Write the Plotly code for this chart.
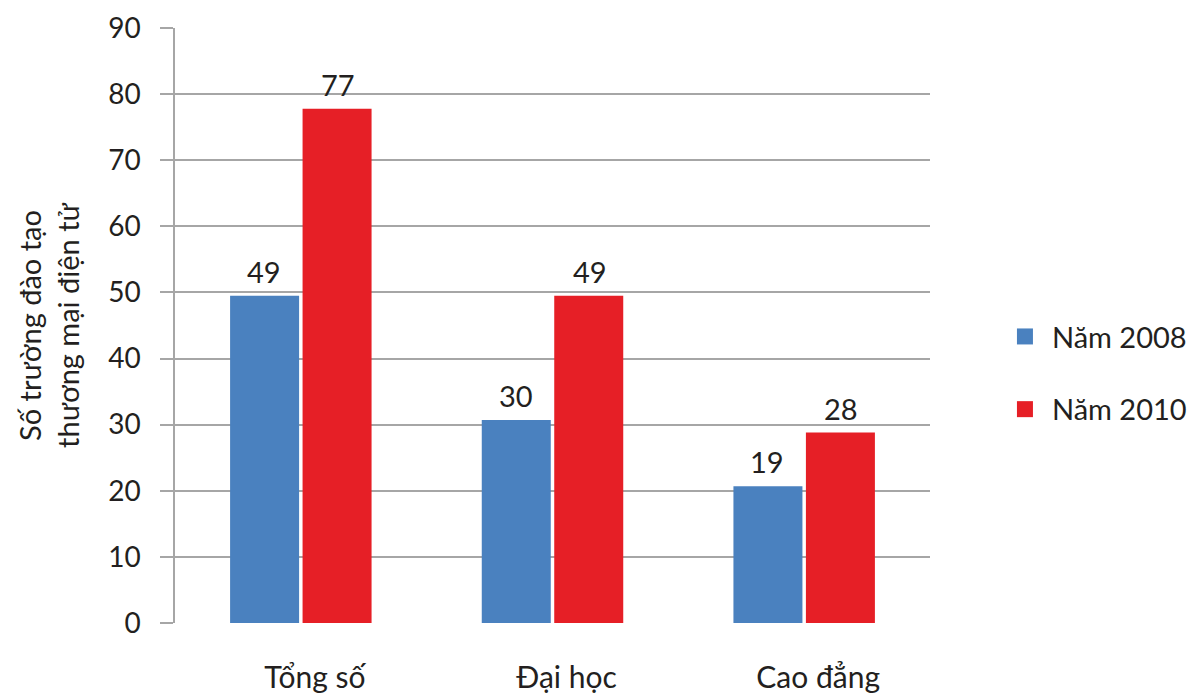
import plotly.graph_objects as go

categories = ["Tổng số", "Đại học", "Cao đẳng"]
series_names = ["Năm 2008", "Năm 2010"]
# bar heights as drawn in the picture
heights_2008 = [49.5, 30.7, 20.7]
heights_2010 = [77.8, 49.5, 28.8]
# printed data labels
labels_2008 = [49, 30, 19]
labels_2010 = [77, 49, 28]
colors = ["#4a81bf", "#e61f26"]
y_ticks = [0, 10, 20, 30, 40, 50, 60, 70, 80, 90]

FONT = "Lato"
TXT = "#231f20"

fig = go.Figure()
series = [(series_names[0], heights_2008, labels_2008, colors[0], -37),
          (series_names[1], heights_2010, labels_2010, colors[1], 37)]
for name, h, lab, col, shift in series:
    fig.add_trace(go.Bar(
        x=categories, y=h, name=name, marker=dict(color=col, line=dict(width=0)),
        showlegend=False,
    ))
    fig.add_trace(go.Scatter(
        x=[None], y=[None], mode="markers", name=name, legendgroup=name,
        marker=dict(symbol="square", size=22, color=col), showlegend=True,
    ))
    for c, v, t in zip(categories, h, lab):
        fig.add_annotation(x=c, y=v, xref="x", yref="y", text=str(t), showarrow=False,
                           yanchor="bottom", xshift=shift, yshift=5,
                           font=dict(size=29, family=FONT, color=TXT))

fig.update_layout(
    width=1194, height=695,
    margin=dict(l=175, r=264, t=28, b=72, autoexpand=False),
    paper_bgcolor="white", plot_bgcolor="white",
    barmode="group", bargap=0.424, bargroupgap=0.048,
    font=dict(family=FONT, color=TXT, size=24),
    legend=dict(x=1.09, xanchor="left", y=0.42, yanchor="middle",
                font=dict(size=29, family=FONT, color=TXT), itemwidth=44,
                tracegroupgap=32, itemsizing="trace", bgcolor="rgba(0,0,0,0)"),
    showlegend=True,
)
fig.update_yaxes(
    range=[0, 90], tickvals=y_ticks, showgrid=True, gridcolor="#a6a6a6", gridwidth=1.5,
    showline=True, linecolor="#a6a6a6", linewidth=1.5,
    ticks="outside", ticklen=13, tickcolor="#a6a6a6", tickwidth=1.5,
    tickfont=dict(size=28, family=FONT, color=TXT), ticklabelstandoff=14,
    zeroline=False, automargin=False,
    title=dict(text="Số trường đào tạo<br>thương mại điện tử", font=dict(size=29, family=FONT, color=TXT), standoff=20),
)
fig.update_xaxes(
    showline=False, ticks="", tickfont=dict(size=30, family=FONT, color=TXT),
    ticklabelstandoff=34, ticklabelshift=14, automargin=False,
)
fig.write_html("out.html")
